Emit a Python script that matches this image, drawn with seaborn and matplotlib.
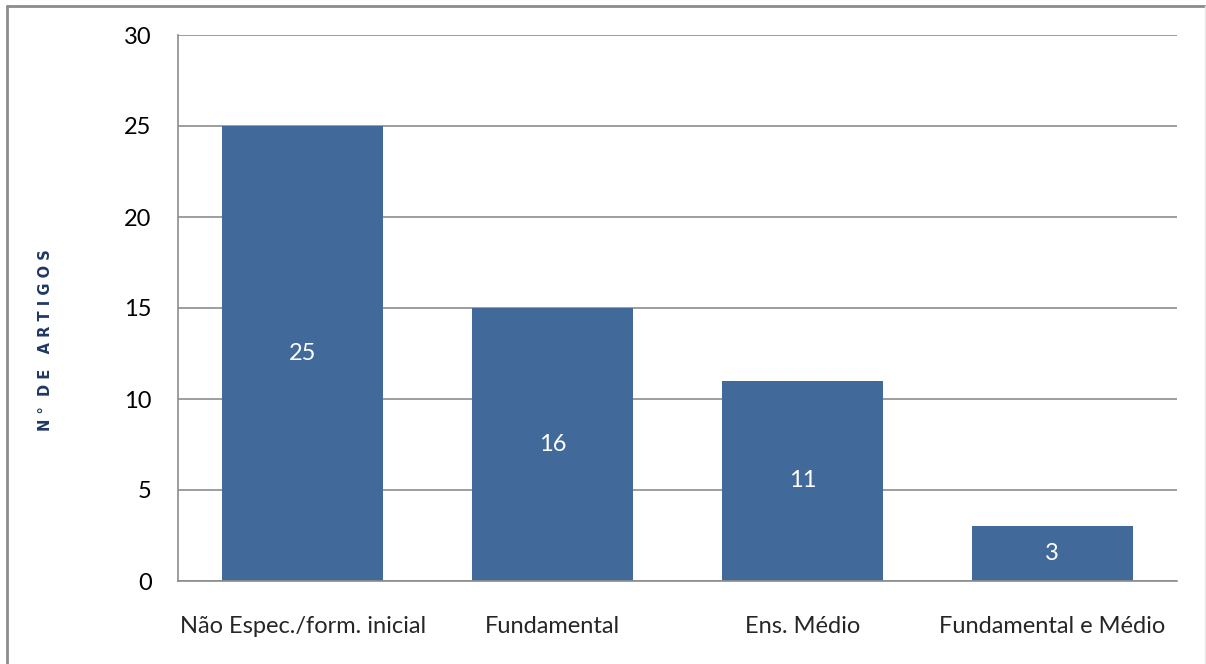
import matplotlib
matplotlib.use("Agg")
import matplotlib.pyplot as plt
from matplotlib.lines import Line2D
import seaborn as sns
import pandas as pd

categories = ["Não Espec./form. inicial", "Fundamental", "Ens. Médio", "Fundamental e Médio"]
values = [25, 15, 11, 3]
labels = ["25", "16", "11", "3"]
yticks = [0, 5, 10, 15, 20, 25, 30]
ylabel = "N °  D E   A R T I G O S"

sns.set_style("white")
plt.rcParams['font.family'] = ['Lato', 'DejaVu Sans']

df = pd.DataFrame({"cat": categories, "val": values})

W, H = 1206, 664
fig = plt.figure(figsize=(W/100, H/100), dpi=100)
ax = fig.add_axes([178/W, 1-581/H, (1177-178)/W, (581-35)/H])

sns.barplot(data=df, x="cat", y="val", color="#41699a", saturation=1, width=0.645,
            ax=ax, edgecolor="#41699a", linewidth=0)

ax.set_ylim(0, 30)
ax.set_yticks(yticks)
ax.set_yticklabels([str(t) for t in yticks], fontsize=17, color="black")
ax.tick_params(axis="y", length=0, pad=19)
ax.tick_params(axis="x", length=0, pad=25, labelsize=17)
ax.set_xlabel("")
ax.set_ylabel("")
ax.grid(axis="y", color="#8c8c8c", linewidth=1.2)
ax.set_axisbelow(True)
for s in ["top", "right"]:
    ax.spines[s].set_visible(False)
for s in ["left", "bottom"]:
    ax.spines[s].set_color("#8c8c8c")
    ax.spines[s].set_linewidth(1.2)

for p, lab in zip(ax.patches, labels):
    x = p.get_x() + p.get_width()/2
    y = p.get_height()/2
    ax.text(x, y, lab, ha="center", va="center", color="white", fontsize=17)

fig.text(46/W, 1-340/H, ylabel, rotation=90, ha="center", va="center",
         fontsize=10.5, fontweight="bold", color="#1f3864", family="DejaVu Sans")

# outer border (left and top, faint right)
fig.add_artist(Line2D([6.5/W, 6.5/W], [0, 1-6/H], transform=fig.transFigure,
                      color="#8c8c8c", linewidth=2))
fig.add_artist(Line2D([6.5/W, 1], [1-6/H, 1-6/H], transform=fig.transFigure,
                      color="#8c8c8c", linewidth=2))
fig.add_artist(Line2D([1204.5/W, 1204.5/W], [0, 1-6/H], transform=fig.transFigure,
                      color="#e6e6e6", linewidth=1))

fig.savefig("out.png", dpi=100)
